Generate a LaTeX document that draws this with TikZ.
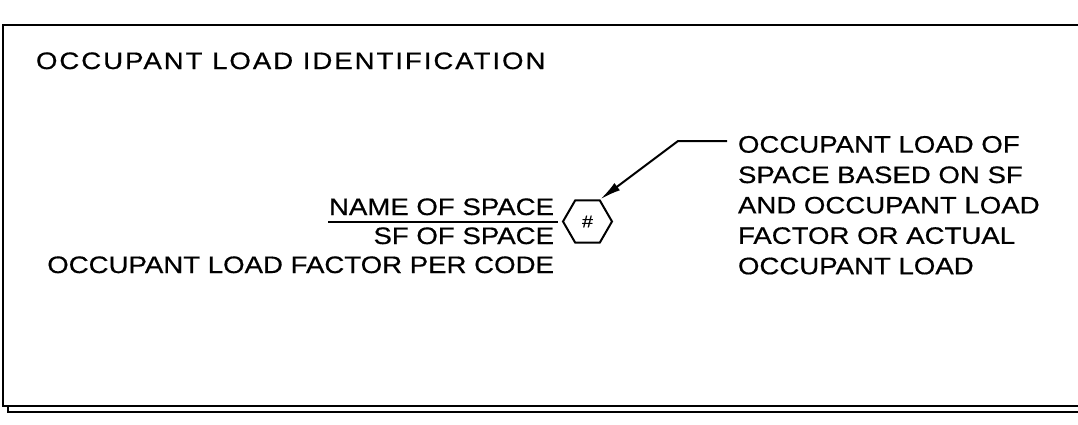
\documentclass[tikz,border=0pt]{standalone}
\usepackage{fontspec}
\setmainfont[FakeStretch=1.16, FakeBold=0.6]{Liberation Sans}
\usetikzlibrary{arrows.meta,shapes.geometric}

\begin{document}
\begin{tikzpicture}[x=0.5pt, y=-0.5pt, >={Latex[length=10.5pt,width=4.5pt]}, line width=1pt,
	testo/.style={font=\fontsize{11.9}{15.2}\selectfont, inner sep=0pt},
	esagono/.style={draw, regular polygon, regular polygon sides=6, minimum size=24.5pt, inner sep=0pt}]
	% Definizioni per la cornice
	\def\Sx{2.5}
	\def\Su{24.5}
	\def\Giu{406}
	\def\Ombra{412}
	
	\useasboundingbox (0,0) rectangle (1078,424);
	
	% --- Cornice ---
	% Bordo del foglio (aperto a destra)
	\draw (1090,\Su) -- (\Sx,\Su) -- (\Sx,\Giu) -- (1090,\Giu);
	% Ombra in basso
	\draw (8,\Giu) -- (8,\Ombra) -- (1090,\Ombra);
	
	% --- Titolo ---
	\node[testo, font=\fontsize{11.9}{15.2}\selectfont\addfontfeature{LetterSpace=8.2}, anchor=base west] (titolo) at (35,69) {OCCUPANT LOAD IDENTIFICATION};
	
	% --- Etichetta dello spazio ---
	\node[testo, anchor=base east] (nome) at (555,215) {NAME OF SPACE};
	\draw ([yshift=-3.5pt]nome.base west) -- ([shift={(1.5pt,-3.5pt)}]nome.base east);
	\node[testo, anchor=base east] (sf) at (555,244) {SF OF SPACE};
	\node[testo, anchor=base east] (fattore) at (555,273) {OCCUPANT LOAD FACTOR PER CODE};
	
	% --- Esagono ---
	\node[esagono] (carico) at (587.5,221.5) {\fontsize{8.5}{8.5}\selectfont\#};
	
	% --- Richiamo ---
	\node[testo, anchor=north west, align=left] (nota) at (737,135)
	{OCCUPANT LOAD OF\\SPACE BASED ON SF\\AND OCCUPANT LOAD\\FACTOR OR ACTUAL\\OCCUPANT LOAD};
	\coordinate (attacco) at (727,141);
	\coordinate (gomito) at (678,141);
	\draw[->] (attacco) -- (gomito) -- (carico.60);
\end{tikzpicture}
\end{document}
